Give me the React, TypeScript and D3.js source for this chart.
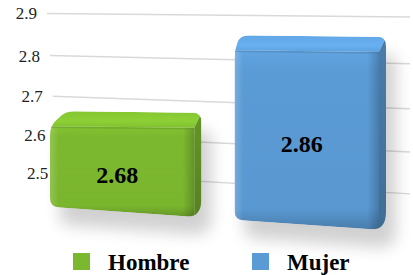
import React, { useEffect, useRef } from 'react'
import * as d3 from 'd3'

// chart data
const categories = ['Hombre', 'Mujer']
const values = [2.68, 2.86]
const colors = ['#7cb82f', '#5b9bd5']
const tickValues = [2.5, 2.6, 2.7, 2.8, 2.9]
const axisMin = 2.4
const axisMax = 2.9

const width = 413
const height = 275
const serif = 'Liberation Serif'

// back wall, slightly in perspective (left and right edge scales)
const yLeft = d3.scalePow().exponent(2).domain([axisMin, axisMax]).range([209, 13.5])
const yRight = d3.scalePow().exponent(2).domain([axisMin, axisMax]).range([234, 17])
const xFrac = d3.scaleLinear().domain([52, 410]).range([0, 1])
const wallY = (v: number, x: number) => d3.interpolateNumber(yLeft(v), yRight(v))(xFrac(x))
const wallStartX = (y: number) => 47 + (y - 13) * 0.07

// bar fronts stand in front of the wall
const topLeft = d3.scaleLinear().domain([2.5, axisMax]).range([204, 31])
const topRight = d3.scaleLinear().domain([2.5, axisMax]).range([208, 35])
const barTopY = (v: number, x: number) => d3.interpolateNumber(topLeft(v), topRight(v))(xFrac(x))

const x = d3.scaleBand<string>().domain(categories).range([50, 386]).paddingInner(0.18)

type Pt = [number, number]

function toward(p: Pt, q: Pt, r: number): Pt {
  const len = Math.hypot(q[0] - p[0], q[1] - p[1])
  const t = Math.min(r, len / 2) / len
  return [p[0] + (q[0] - p[0]) * t, p[1] + (q[1] - p[1]) * t]
}

function roundedPath(pts: Pt[], r: number) {
  const n = pts.length
  let d = ''
  for (let i = 0; i < n; i++) {
    const a = toward(pts[i], pts[(i - 1 + n) % n], r)
    const b = toward(pts[i], pts[(i + 1) % n], r)
    d += (i === 0 ? 'M' : 'L') + a.join(',') + 'Q' + pts[i].join(',') + ' ' + b.join(',')
  }
  return d + 'Z'
}

const poly = (pts: Pt[]) => 'M' + pts.map(p => p.join(',')).join('L') + 'Z'

function barGeom(i: number) {
  const c = categories[i]
  const v = values[i]
  const side = 7
  const x0 = x(c)!
  const x1 = x0 + x.bandwidth() - side
  const dx = (330 - x0) * 0.055
  const dy = -15
  const tL = barTopY(v, x0)
  const tR = barTopY(v, x1)
  const bL = wallY(axisMin, x0) - 2
  const bR = wallY(axisMin, x1) - 2
  return { v, side, x0, x1, dx, dy, tL, tR, bL, bR }
}

function Bar({ i }: { i: number }) {
  const base = d3.color(colors[i])!
  const { side, x0, x1, dx, dy, tL, tR, bL, bR } = barGeom(i)

  const front: Pt[] = [[x0, tL], [x1, tR], [x1, bR], [x0, bL]]
  const top: Pt[] = [[x0, tL], [x0 + dx, tL + dy], [x1 + side, tR + dy], [x1, tR]]
  const sideFace: Pt[] = [[x1, tR], [x1 + side, tR + dy], [x1 + side, bR + dy * 0.6], [x1, bR]]
  const outline: Pt[] = [[x0, bL], [x0, tL], [x0 + dx, tL + dy], [x1 + side, tR + dy], [x1 + side, bR + dy * 0.6], [x1, bR]]
  const outlineD = roundedPath(outline, 9)

  return (
    <g>
      <defs>
        <clipPath id={`clip-${i}`}><path d={outlineD} /></clipPath>
        <linearGradient id={`front-${i}`} x1="0" y1="0" x2="0" y2="1">
          <stop offset="0%" stopColor={base.brighter(0.15).formatHex()} />
          <stop offset="12%" stopColor={base.formatHex()} />
          <stop offset="88%" stopColor={base.darker(0.05).formatHex()} />
          <stop offset="100%" stopColor={base.darker(0.6).formatHex()} />
        </linearGradient>
        <linearGradient id={`edge-${i}`} x1="0" y1="0" x2="1" y2="0">
          <stop offset="0%" stopColor="#fff" stopOpacity={0.18} />
          <stop offset="6%" stopColor="#fff" stopOpacity={0} />
          <stop offset="92%" stopColor="#000" stopOpacity={0} />
          <stop offset="100%" stopColor="#000" stopOpacity={0.2} />
        </linearGradient>
        <linearGradient id={`top-${i}`} x1="0" y1="0" x2="0" y2="1">
          <stop offset="0%" stopColor={base.brighter(0.2).formatHex()} />
          <stop offset="60%" stopColor={base.brighter(0.35).formatHex()} />
          <stop offset="100%" stopColor={base.brighter(0.1).formatHex()} />
        </linearGradient>
        <linearGradient id={`side-${i}`} x1="0" y1="0" x2="0" y2="1">
          <stop offset="0%" stopColor={base.darker(0.6).formatHex()} />
          <stop offset="100%" stopColor={base.darker(1).formatHex()} />
        </linearGradient>
      </defs>
      <path d={outlineD} transform="translate(10,18)" fill="#000" opacity={0.18} filter="url(#shadow)" />
      <g clipPath={`url(#clip-${i})`}>
        <path d={poly(front)} fill={`url(#front-${i})`} />
        <path d={poly(front)} fill={`url(#edge-${i})`} />
        <path d={poly(top)} fill={`url(#top-${i})`} />
        <path d={poly(sideFace)} fill={`url(#side-${i})`} />
        <line x1={x0} y1={tL + 1} x2={x1} y2={tR + 1} stroke={base.darker(0.7).formatHex()} strokeWidth={1.5} opacity={0.45} />
      </g>
    </g>
  )
}

export default function App() {
  const textRef = useRef<SVGGElement>(null)

  // all text is drawn with d3
  useEffect(() => {
    if (!textRef.current) return
    const g = d3.select(textRef.current)
    g.selectAll('*').remove()

    tickValues.forEach(t => {
      const yl = yLeft(t)
      g.append('text')
        .attr('x', wallStartX(yl) - 10)
        .attr('y', yl)
        .attr('dy', '0.35em')
        .attr('text-anchor', 'end')
        .attr('fill', '#222')
        .style('font-family', serif)
        .style('font-size', '17px')
        .text(t.toFixed(1))
    })

    categories.forEach((c, i) => {
      const { v, x0, x1, tL, tR, bL, bR } = barGeom(i)
      g.append('text')
        .attr('x', (x0 + x1) / 2 - 5)
        .attr('y', (tL + tR + bL + bR) / 4 + 14)
        .attr('text-anchor', 'middle')
        .attr('fill', '#000')
        .style('font-family', serif)
        .style('font-weight', 'bold')
        .style('font-size', '24px')
        .text(v.toFixed(2))

      g.append('text')
        .attr('x', 73 + i * 179 + 35)
        .attr('y', 270)
        .attr('fill', '#000')
        .style('font-family', serif)
        .style('font-weight', 'bold')
        .style('font-size', '23px')
        .text(c)
    })
  }, [])

  return (
    <svg width={width} height={height} style={{ position: 'absolute', left: 0, top: 0 }}>
      <defs>
        <filter id="shadow" x="-30%" y="-30%" width="160%" height="160%">
          <feGaussianBlur stdDeviation={8} />
        </filter>
      </defs>

      {/* gridlines */}
      {tickValues.map(t => {
        const yl = yLeft(t)
        return <line key={t} x1={wallStartX(yl)} y1={yl} x2={410} y2={yRight(t)} stroke="#d9d9d9" strokeWidth={1.5} />
      })}

      {categories.map((c, i) => <Bar key={c} i={i} />)}

      {/* legend swatches */}
      {categories.map((c, i) => (
        <rect key={c} x={73 + i * 179} y={253} width={17} height={17} fill={colors[i]} />
      ))}

      <g ref={textRef} />
    </svg>
  )
}
